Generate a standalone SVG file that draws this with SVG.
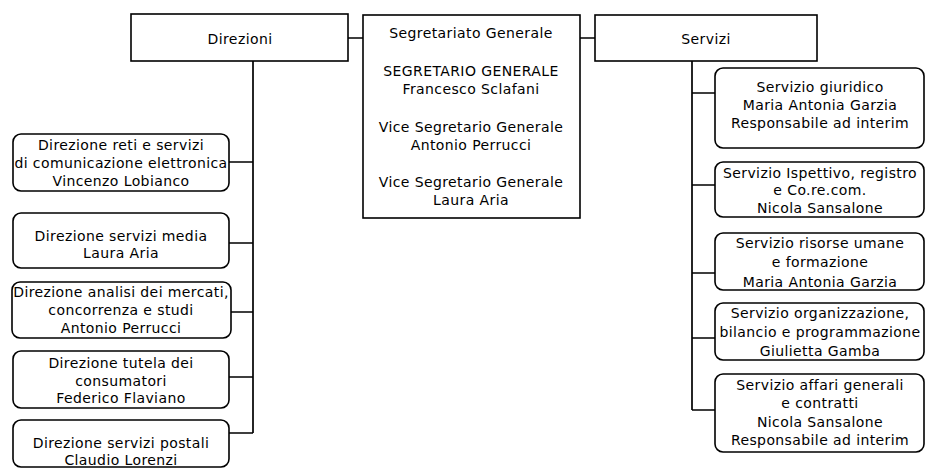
<svg xmlns="http://www.w3.org/2000/svg" width="927" height="470" viewBox="0 0 927 470">
<style>
rect{fill:#fff;stroke:#000;stroke-width:1.6}
.c{fill:none;stroke:#000;stroke-width:1.7}
text{font-family:"DejaVu Sans",Verdana,sans-serif;font-size:14px;letter-spacing:0.4px;fill:#000;text-anchor:middle}
</style>
<rect x="0" y="0" width="927" height="470" style="stroke:none"/>
<g id="connectors">
<path class="c" d="M348 38H363M580 38H595"/>
<path class="c" d="M253 61V433M229 162H253M229 243H253M231 312H253M229 377H253M229 433H253"/>
<path class="c" d="M692 61V410M692 93H715M692 185H715M692 273H715M692 338H715M692 410H715"/>
</g>
<g id="direzioni"><rect x="131" y="14" width="217" height="47"/><text x="240" y="44">Direzioni</text></g>
<g id="segretariato"><rect x="363" y="15" width="217" height="203"/>
<text x="471" y="38">Segretariato Generale</text>
<text x="471" y="76">SEGRETARIO GENERALE</text>
<text x="471" y="94">Francesco Sclafani</text>
<text x="471" y="132">Vice Segretario Generale</text>
<text x="471" y="150">Antonio Perrucci</text>
<text x="471" y="187">Vice Segretario Generale</text>
<text x="471" y="205">Laura Aria</text></g>
<g id="servizi"><rect x="595" y="15" width="222" height="46"/><text x="706" y="44">Servizi</text></g>
<g id="dir1"><rect x="13" y="134" width="216" height="57" rx="8"/>
<text x="121" y="150">Direzione reti e servizi</text>
<text x="121" y="168">di comunicazione elettronica</text>
<text x="121" y="186">Vincenzo Lobianco</text></g>
<g id="dir2"><rect x="13" y="213" width="216" height="55" rx="8"/>
<text x="121" y="241">Direzione servizi media</text>
<text x="121" y="258">Laura Aria</text></g>
<g id="dir3"><rect x="12" y="282" width="219" height="56" rx="8"/>
<text x="121" y="297">Direzione analisi dei mercati,</text>
<text x="121" y="315">concorrenza e studi</text>
<text x="121" y="333">Antonio Perrucci</text></g>
<g id="dir4"><rect x="13" y="351" width="216" height="57" rx="8"/>
<text x="121" y="368">Direzione tutela dei</text>
<text x="121" y="386">consumatori</text>
<text x="121" y="403">Federico Flaviano</text></g>
<g id="dir5"><rect x="13" y="420" width="216" height="47" rx="8"/>
<text x="121" y="448">Direzione servizi postali</text>
<text x="121" y="465">Claudio Lorenzi</text></g>
<g id="serv1"><rect x="715" y="68" width="209" height="80" rx="8"/>
<text x="820" y="92">Servizio giuridico</text>
<text x="820" y="110">Maria Antonia Garzia</text>
<text x="820" y="128">Responsabile ad interim</text></g>
<g id="serv2"><rect x="715" y="162" width="209" height="55" rx="8"/>
<text x="820" y="178">Servizio Ispettivo, registro</text>
<text x="820" y="195">e Co.re.com.</text>
<text x="820" y="213">Nicola Sansalone</text></g>
<g id="serv3"><rect x="715" y="233" width="209" height="57" rx="8"/>
<text x="820" y="248">Servizio risorse umane</text>
<text x="820" y="267">e formazione</text>
<text x="820" y="287">Maria Antonia Garzia</text></g>
<g id="serv4"><rect x="715" y="303" width="209" height="57" rx="8"/>
<text x="820" y="318">Servizio organizzazione,</text>
<text x="820" y="337">bilancio e programmazione</text>
<text x="820" y="356">Giulietta Gamba</text></g>
<g id="serv5"><rect x="715" y="374" width="209" height="78" rx="8"/>
<text x="820" y="390">Servizio affari generali</text>
<text x="820" y="408">e contratti</text>
<text x="820" y="427">Nicola Sansalone</text>
<text x="820" y="445">Responsabile ad interim</text></g>
</svg>
